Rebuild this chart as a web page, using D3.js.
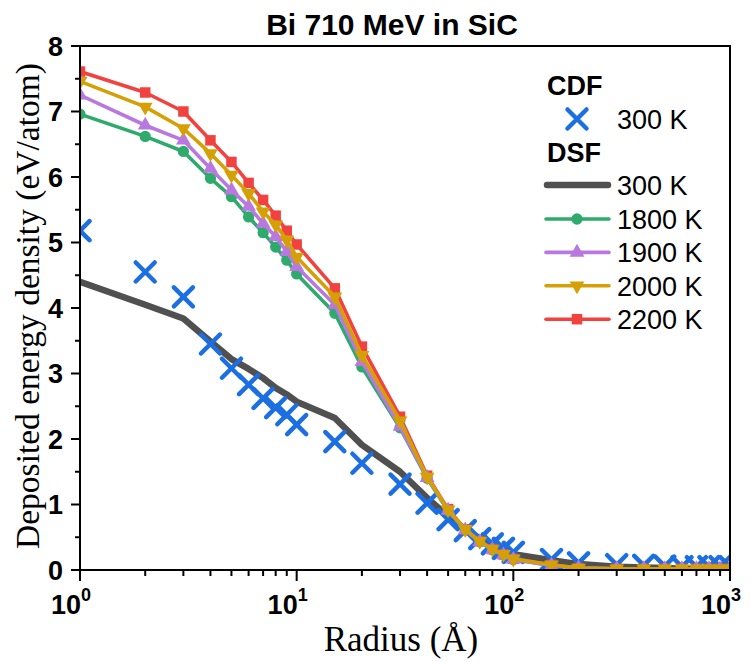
<!DOCTYPE html>
<html>
<head>
<meta charset="utf-8">
<script src="https://cdn.jsdelivr.net/npm/d3@7"></script>
<style>
  html, body { margin: 0; padding: 0; background: #fff; }
  svg { display: block; }
</style>
</head>
<body>
<svg id="chart" width="751" height="662"></svg>
<script>
// ---------------- DATA ----------------
const radii = [1,2,3,4,5,6,7,8,9,10,15,20,30,40,50,60,70,80,90,100,150,200,300,400,500,600,700,800,900,1000];

const cdf300  = [5.18,4.55,4.17,3.45,3.08,2.83,2.62,2.48,2.37,2.22,1.96,1.63,1.31,1.02,0.77,0.60,0.48,0.40,0.33,0.27,0.16,0.11,0.08,0.07,0.06,0.05,0.05,0.05,0.05,0.05];

const dsf300  = [4.40,4.05,3.84,3.49,3.22,3.07,2.93,2.78,2.68,2.57,2.32,1.91,1.50,1.10,0.82,0.62,0.48,0.38,0.30,0.24,0.15,0.09,0.05,0.04,0.03,0.02,0.02,0.02,0.02,0.02];
const dsf1800 = [6.96,6.62,6.39,5.98,5.70,5.39,5.15,4.93,4.73,4.52,3.92,3.10,2.17,1.40,0.90,0.61,0.43,0.31,0.23,0.16,0.07,0.03,0.02,0.02,0.02,0.02,0.02,0.02,0.02,0.02];
const dsf1900 = [7.25,6.79,6.56,6.13,5.80,5.55,5.29,5.09,4.86,4.63,4.05,3.18,2.19,1.41,0.91,0.61,0.43,0.31,0.23,0.16,0.07,0.03,0.02,0.02,0.02,0.02,0.02,0.02,0.02,0.02];
const dsf2000 = [7.46,7.07,6.74,6.36,6.03,5.75,5.47,5.27,5.04,4.78,4.17,3.28,2.28,1.42,0.92,0.62,0.44,0.32,0.24,0.17,0.08,0.03,0.02,0.02,0.02,0.02,0.02,0.02,0.02,0.02];
const dsf2200 = [7.61,7.29,7.00,6.56,6.23,5.91,5.65,5.41,5.18,4.97,4.30,3.41,2.34,1.44,0.93,0.62,0.44,0.32,0.24,0.17,0.08,0.03,0.02,0.02,0.02,0.02,0.02,0.02,0.02,0.02];

const xMajorTicks = [1,10,100,1000];
const xTickExponents = ["0","1","2","3"];
const yMajorTicks = [0,1,2,3,4,5,6,7,8];

const titleText = "Bi 710 MeV in SiC";
const xTitle = "Radius (Å)";
const yTitle = "Deposited energy density (eV/atom)";

const tempSeries = [
  {name: "2200 K", values: dsf2200, color: "#f2423f", symbol: "square"},
  {name: "1800 K", values: dsf1800, color: "#2eaa6c", symbol: "circle"},
  {name: "1900 K", values: dsf1900, color: "#b878e0", symbol: "triangleUp"},
  {name: "2000 K", values: dsf2000, color: "#d4a005", symbol: "triangleDown"}
];
const legendOrder = ["1800 K","1900 K","2000 K","2200 K"];

// ---------------- LAYOUT ----------------
const L = 80, R = 730, T = 46, B = 570;
const svg = d3.select("#chart");
const x = d3.scaleLog().domain([1,1000]).range([L,R]);
const y = d3.scaleLinear().domain([0,8]).range([B,T]);

const SANS = "'Liberation Sans', Arial, sans-serif";
const SERIF = "'Liberation Serif', 'Times New Roman', serif";

svg.append("defs").append("clipPath").attr("id","plotClip")
  .append("rect").attr("x",L).attr("y",T).attr("width",R-L).attr("height",B-T);

function symbolPath(kind) {
  switch (kind) {
    case "square": return d3.symbol().type(d3.symbolSquare).size(110)();
    case "circle": return d3.symbol().type(d3.symbolCircle).size(100)();
    case "triangleUp": return d3.symbol().type(d3.symbolTriangle).size(95)();
    case "triangleDown": return d3.symbol().type(d3.symbolTriangle).size(95)();
  }
}
function symbolTransform(kind, px, py) {
  return kind === "triangleDown" ? `translate(${px},${py}) rotate(180)` : `translate(${px},${py})`;
}

const plot = svg.append("g").attr("clip-path","url(#plotClip)");
const line = d3.line().x(d => x(d[0])).y(d => y(d[1]));

plot.append("path")
  .attr("d", line(radii.map((r,i) => [r, dsf300[i]])))
  .attr("fill","none").attr("stroke","#505050").attr("stroke-width",6.5)
  .attr("stroke-linejoin","round");

function drawCross(g, px, py, s) {
  g.append("path")
    .attr("d", `M${px-s},${py-s}L${px+s},${py+s}M${px-s},${py+s}L${px+s},${py-s}`)
    .attr("stroke","#1b6fe3").attr("stroke-width",4.5).attr("stroke-linecap","round").attr("fill","none");
}
radii.forEach((r,i) => drawCross(plot, x(r), y(cdf300[i]), 9.5));

tempSeries.forEach(s => {
  const pts = radii.map((r,i) => [r, s.values[i]]);
  plot.append("path").attr("d", line(pts))
    .attr("fill","none").attr("stroke", s.color).attr("stroke-width",3.6)
    .attr("stroke-linejoin","round");
  plot.selectAll(null).data(pts).enter().append("path")
    .attr("d", symbolPath(s.symbol))
    .attr("transform", d => symbolTransform(s.symbol, x(d[0]), y(d[1])))
    .attr("fill", s.color);
});

// ---------------- AXES ----------------
const axisG = svg.append("g");
axisG.append("rect").attr("x",L).attr("y",T).attr("width",R-L).attr("height",B-T)
  .attr("fill","none").attr("stroke","#000").attr("stroke-width",2);

const xMinor = [];
[1,10,100].forEach(dec => { for (let k=2;k<=9;k++) xMinor.push(dec*k); });
axisG.selectAll(null).data(xMinor).enter().append("line")
  .attr("x1", d=>x(d)).attr("x2", d=>x(d)).attr("y1",B).attr("y2",B+6)
  .attr("stroke","#000").attr("stroke-width",2);
axisG.selectAll(null).data(xMajorTicks).enter().append("line")
  .attr("x1", d=>x(d)).attr("x2", d=>x(d)).attr("y1",B).attr("y2",B+11)
  .attr("stroke","#000").attr("stroke-width",2);

xMajorTicks.forEach((t,i) => {
  const px = x(t);
  axisG.append("text").attr("x", px+1).attr("y", 614)
    .attr("text-anchor","end").attr("font-family",SANS).attr("font-weight","bold")
    .attr("font-size",27).text("10");
  axisG.append("text").attr("x", px+1).attr("y", 601)
    .attr("text-anchor","start").attr("font-family",SANS).attr("font-weight","bold")
    .attr("font-size",18).text(xTickExponents[i]);
});

const yMinor = d3.range(0.5, 8, 1);
axisG.selectAll(null).data(yMinor).enter().append("line")
  .attr("x1",L-5).attr("x2",L).attr("y1",d=>y(d)).attr("y2",d=>y(d))
  .attr("stroke","#000").attr("stroke-width",2);
axisG.selectAll(null).data(yMajorTicks).enter().append("line")
  .attr("x1",L-9).attr("x2",L).attr("y1",d=>y(d)).attr("y2",d=>y(d))
  .attr("stroke","#000").attr("stroke-width",2);
axisG.selectAll(null).data(yMajorTicks).enter().append("text")
  .attr("x", 63).attr("y", d=>y(d)).attr("dy","0.36em")
  .attr("text-anchor","end").attr("font-family",SANS).attr("font-weight","bold")
  .attr("font-size",27).text(d=>d);

svg.append("text").attr("x",392).attr("y",35).attr("text-anchor","middle")
  .attr("font-family",SANS).attr("font-weight","bold").attr("font-size",30).text(titleText);
svg.append("text").attr("x",401).attr("y",651).attr("text-anchor","middle")
  .attr("font-family",SERIF).attr("font-size",35).text(xTitle);
svg.append("text").attr("transform","translate(39,306) rotate(-90)").attr("text-anchor","middle")
  .attr("font-family",SERIF).attr("font-size",33.5).text(yTitle);

// ---------------- LEGEND ----------------
const lg = svg.append("g");
const lx0 = 545, lx1 = 610, lxc = 577, ltx = 617;
const LFS = 27;
lg.append("text").attr("x",547).attr("y",85).attr("dy","0.36em")
  .attr("font-family",SANS).attr("font-weight","bold").attr("font-size",LFS).text("CDF");
drawCross(lg, lxc, 119, 9.5);
lg.append("text").attr("x",ltx).attr("y",119).attr("dy","0.36em")
  .attr("font-family",SANS).attr("font-size",LFS).text("300 K");
lg.append("text").attr("x",547).attr("y",152).attr("dy","0.36em")
  .attr("font-family",SANS).attr("font-weight","bold").attr("font-size",LFS).text("DSF");
lg.append("line").attr("x1",lx0+2).attr("x2",lx1-2).attr("y1",185).attr("y2",185)
  .attr("stroke","#505050").attr("stroke-width",6.5).attr("stroke-linecap","round");
lg.append("text").attr("x",ltx).attr("y",185).attr("dy","0.36em")
  .attr("font-family",SANS).attr("font-size",LFS).text("300 K");
legendOrder.forEach((name,i) => {
  const s = tempSeries.find(d => d.name === name);
  const ly = 219 + i*33.4;
  lg.append("line").attr("x1",lx0+1).attr("x2",lx1-1).attr("y1",ly).attr("y2",ly)
    .attr("stroke",s.color).attr("stroke-width",3.6).attr("stroke-linecap","round");
  lg.append("path").attr("d",symbolPath(s.symbol))
    .attr("transform",symbolTransform(s.symbol,lxc,ly)).attr("fill",s.color);
  lg.append("text").attr("x",ltx).attr("y",ly).attr("dy","0.36em")
    .attr("font-family",SANS).attr("font-size",LFS).text(name);
});
</script>
</body>
</html>
